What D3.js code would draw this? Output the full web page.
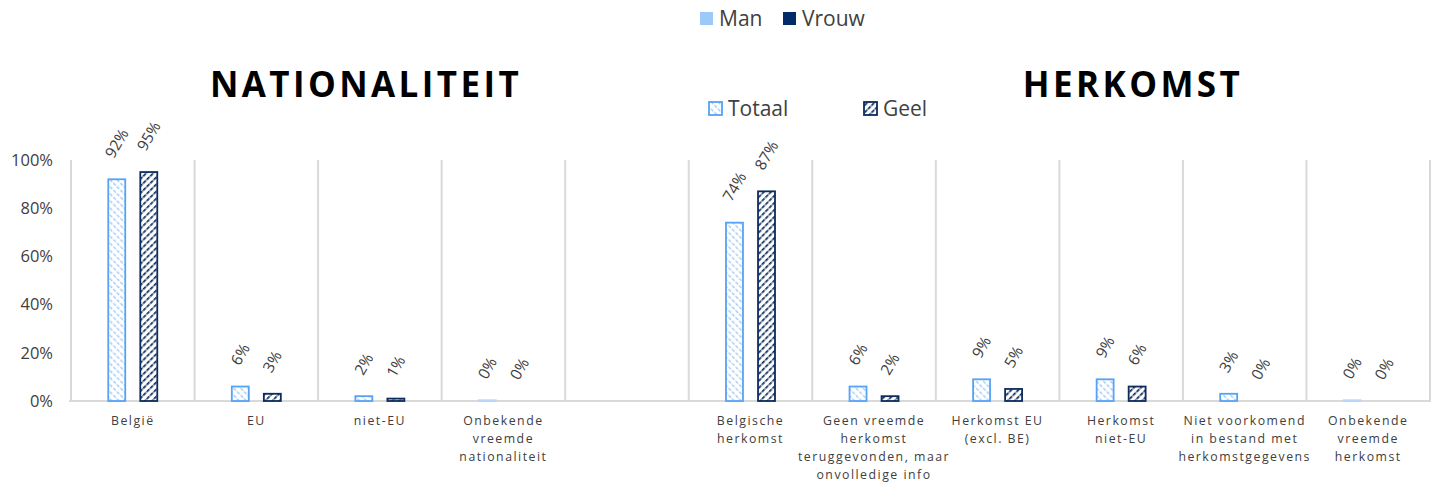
<!DOCTYPE html>
<html>
<head>
<meta charset="utf-8">
<script src="https://cdn.jsdelivr.net/npm/d3@7"></script>
<style>
  html, body { margin: 0; padding: 0; background: #fff; }
  svg { display: block; }
</style>
</head>
<body>
<svg id="chart" width="1434" height="483"></svg>
<script>
// ---- data ----
const categories = [
  "België", "EU", "niet-EU", "Onbekende vreemde nationaliteit", "",
  "Belgische herkomst", "Geen vreemde herkomst teruggevonden, maar onvolledige info",
  "Herkomst EU (excl. BE)", "Herkomst niet-EU",
  "Niet voorkomend in bestand met herkomstgegevens", "Onbekende vreemde herkomst"
];
// manual line breaks for category labels (same order as categories)
const categoryLines = [
  ["België"], ["EU"], ["niet-EU"], ["Onbekende", "vreemde", "nationaliteit"], [],
  ["Belgische", "herkomst"], ["Geen vreemde", "herkomst", "teruggevonden, maar", "onvolledige info"],
  ["Herkomst EU", "(excl. BE)"], ["Herkomst", "niet-EU"],
  ["Niet voorkomend", "in bestand met", "herkomstgegevens"], ["Onbekende", "vreemde", "herkomst"]
];
const seriesNames = ["Totaal", "Geel"];
const totaal = [92, 6, 2, 0.3, null, 74, 6, 9, 9, 3, 0.3];
const geel   = [95, 3, 1, 0,   null, 87, 2, 5, 6, 0, 0];
const yTicks = [0, 20, 40, 60, 80, 100];
const sectionTitles = ["NATIONALITEIT", "HERKOMST"];
const topLegend = ["Man", "Vrouw"];

// ---- layout ----
const svg = d3.select("#chart");
const plotLeft = 71, plotRight = 1430, plotTop = 160, plotBottom = 401;
const textColor = "#404040";
const font = "'Open Sans', sans-serif";

const x = d3.scaleBand().domain(categories.map((c, i) => i)).range([plotLeft, plotRight]).padding(0);
const bw = x.bandwidth();
const x1 = d3.scaleBand().domain(seriesNames).range([bw / 2 - 24.5, bw / 2 + 24.5]).paddingInner(0.47).paddingOuter(0);
const y = d3.scaleLinear().domain([0, 100]).range([plotBottom, plotTop]);

// ---- patterns ----
const defs = svg.append("defs");
const pT = defs.append("pattern").attr("id", "patTotaal").attr("patternUnits", "userSpaceOnUse")
  .attr("width", 5).attr("height", 5).attr("patternTransform", "rotate(-45)");
pT.append("rect").attr("width", 5).attr("height", 5).attr("fill", "#fff");
pT.append("line").attr("x1", 0).attr("y1", 0).attr("x2", 0).attr("y2", 5)
  .attr("stroke", "#a3cbf8").attr("stroke-width", 2.8).attr("stroke-dasharray", "3 1.5");

const pG = defs.append("pattern").attr("id", "patGeel").attr("patternUnits", "userSpaceOnUse")
  .attr("width", 5).attr("height", 5).attr("patternTransform", "rotate(45)");
pG.append("rect").attr("width", 5).attr("height", 5).attr("fill", "#fff");
pG.append("line").attr("x1", 0).attr("y1", 0).attr("x2", 0).attr("y2", 5)
  .attr("stroke", "#0c2c5e").attr("stroke-width", 3.4).attr("stroke-dasharray", "3.5 1");

const fills = { Totaal: "url(#patTotaal)", Geel: "url(#patGeel)" };
const strokes = { Totaal: "#57a2f5", Geel: "#0c2c5e" };
const values = { Totaal: totaal, Geel: geel };

// ---- separators & axis ----
const bounds = categories.map((c, i) => x(i)).concat([plotRight]);
svg.append("g").selectAll("line").data(bounds).join("line")
  .attr("x1", d => d).attr("x2", d => d).attr("y1", plotTop).attr("y2", plotBottom)
  .attr("stroke", "#d9d9d9").attr("stroke-width", 2);
svg.append("line").attr("x1", plotLeft - 2).attr("x2", plotRight + 1).attr("y1", plotBottom).attr("y2", plotBottom)
  .attr("stroke", "#d9d9d9").attr("stroke-width", 2);

// y axis labels
const yAxis = d3.axisLeft(y).tickValues(yTicks).tickFormat(d => d + "%").tickSize(0).tickPadding(0);
const gy = svg.append("g").attr("transform", `translate(${plotLeft - 18},0)`).call(yAxis);
gy.select(".domain").remove();
gy.selectAll("text").attr("font-family", font).attr("font-size", 16.5).attr("fill", textColor);

// ---- bars ----
seriesNames.forEach(s => {
  const data = values[s].map((v, i) => ({ i, v })).filter(d => d.v !== null && d.v > 0);
  svg.append("g").selectAll("rect").data(data).join("rect")
    .attr("x", d => x(d.i) + x1(s))
    .attr("y", d => y(d.v))
    .attr("width", x1.bandwidth())
    .attr("height", d => y(0) - y(d.v))
    .attr("fill", fills[s])
    .attr("stroke", d => d.v < 1 ? "#b7d5f8" : strokes[s])
    .attr("stroke-width", 1.8);
});

// ---- value labels ----
seriesNames.forEach(s => {
  const data = values[s].map((v, i) => ({ i, v })).filter(d => d.v !== null);
  const g = svg.append("g");
  data.forEach(d => {
    const cx = x(d.i) + x1(s) + x1.bandwidth() / 2;
    const t = g.append("text")
      .attr("font-family", font).attr("font-size", 15.5).attr("fill", textColor)
      .attr("text-anchor", "middle").attr("dy", "0.35em")
      .text(Math.round(d.v) + "%");
    const len = t.node().getComputedTextLength();
    const boxH = len * Math.sin(Math.PI / 3) + 15 * 0.5;
    const cy = y(d.v) - 19 - boxH / 2;
    t.attr("transform", `translate(${cx},${cy}) rotate(-60)`);
  });
});

// ---- category labels ----
const gc = svg.append("g");
categoryLines.forEach((lines, i) => {
  const t = gc.append("text")
    .attr("x", x(i) + bw / 2).attr("y", 424)
    .attr("text-anchor", "middle").attr("font-family", font).attr("font-size", 12.3)
    .attr("letter-spacing", "1.5px").attr("fill", textColor);
  lines.forEach((ln, k) => t.append("tspan").attr("x", x(i) + bw / 2).attr("y", 425 + k * 18).text(ln));
});

// ---- section titles ----
const titleCenters = [366, 1133];
svg.append("g").selectAll("text").data(sectionTitles).join("text")
  .attr("x", (d, i) => titleCenters[i]).attr("y", 97)
  .attr("text-anchor", "middle").attr("font-family", font).attr("font-weight", 700)
  .attr("font-size", 35).attr("letter-spacing", "3.4px").attr("fill", "#000")
  .text(d => d);

// ---- top legend (Man / Vrouw) ----
const legTopColors = ["#9dc8fa", "#002d69"];
const legTopX = [700, 783];
const lt = svg.append("g");
topLegend.forEach((name, i) => {
  lt.append("rect").attr("x", legTopX[i]).attr("y", 12).attr("width", 13).attr("height", 13).attr("fill", legTopColors[i]);
  lt.append("text").attr("x", legTopX[i] + 19).attr("y", 26).attr("font-family", font).attr("font-size", 21)
    .attr("fill", textColor).text(name);
});

// ---- series legend (Totaal / Geel) ----
const legX = [709, 864];
const ls = svg.append("g");
seriesNames.forEach((name, i) => {
  ls.append("rect").attr("x", legX[i]).attr("y", 102).attr("width", 13).attr("height", 13)
    .attr("fill", fills[name]).attr("stroke", strokes[name]).attr("stroke-width", 1.8);
  ls.append("text").attr("x", legX[i] + 19).attr("y", 116).attr("font-family", font).attr("font-size", 21)
    .attr("fill", textColor).text(name);
});
</script>
</body>
</html>
